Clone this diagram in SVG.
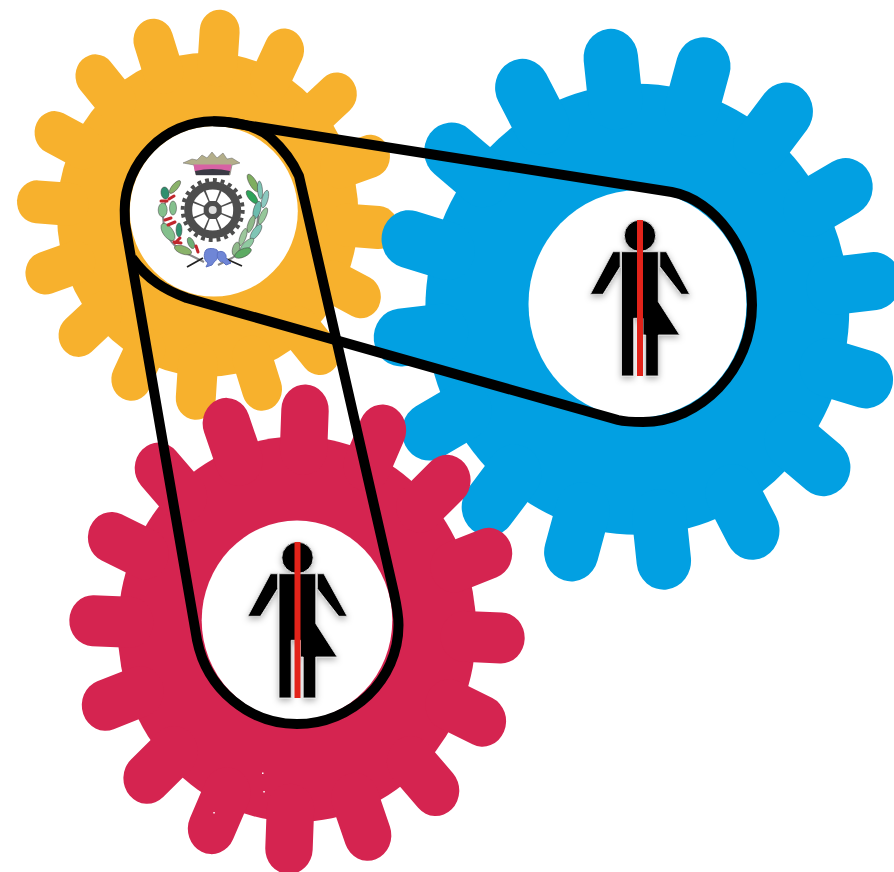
<svg xmlns="http://www.w3.org/2000/svg" width="894" height="872" viewBox="0 0 894 872">
<defs>
<style>
.orange{stroke:#f7b12d;fill:#f7b12d}
.blue{stroke:#02a0e2;fill:#02a0e2}
.red{stroke:#d52450;fill:#d52450}
.tooth{fill:none;stroke-linecap:round}
.belt{fill:none;stroke:#000;stroke-width:10;stroke-linejoin:round}
.leaf{stroke:#444;stroke-width:.5}
</style>
<filter id="sh" x="-30%" y="-30%" width="160%" height="160%"><feDropShadow dx="0" dy="2.500" stdDeviation="3" flood-color="#000" flood-opacity=".3"/></filter>
<g id="person">
<g filter="url(#sh)" stroke="#ddd" stroke-width=".9" fill="#000">
<circle cx="0" cy="15.700" r="15.700"/>
<path d="M-18.500 31.700H18.300V81.700L39.700 115H18.300V156H5.700V115H3V98.300H-6.300V156H-18.500Z"/>
<path d="M-27 31.700H-19.800V46.700L-37 74.300H-49.700Z"/>
<path d="M19.800 31.700H26.300L49.700 74.300H41.300L19.800 46.700Z"/>
</g>
<rect x="-3" y="0" width="6" height="156" fill="#e2231a"/>
</g>
<line id="to" class="tooth" x1="0" y1="-150" x2="0" y2="-184" stroke-width="43"/>
<line id="tb" class="tooth" x1="0" y1="-210" x2="0" y2="-253" stroke-width="58"/>
<line id="tr" class="tooth" x1="0" y1="-180" x2="0" y2="-219.500" stroke-width="51"/>
<path id="win" d="M-3 -9L3 -9L7 -19.500Q0 -21.500 -7 -19.500Z" fill="#fff"/>
</defs>
<g id="gear-orange" class="orange" transform="translate(207.700 214.700) scale(.93 1)">
<circle r="162" stroke="none"/>
<use href="#to" transform="rotate(4)"/><use href="#to" transform="rotate(26.500)"/><use href="#to" transform="rotate(49)"/><use href="#to" transform="rotate(71.500)"/><use href="#to" transform="rotate(94)"/><use href="#to" transform="rotate(116.500)"/><use href="#to" transform="rotate(139)"/><use href="#to" transform="rotate(161.500)"/><use href="#to" transform="rotate(184)"/><use href="#to" transform="rotate(206.500)"/><use href="#to" transform="rotate(229)"/><use href="#to" transform="rotate(251.500)"/><use href="#to" transform="rotate(274)"/><use href="#to" transform="rotate(296.500)"/><use href="#to" transform="rotate(319)"/><use href="#to" transform="rotate(341.500)"/>
</g>
<g id="gear-blue" class="blue" transform="translate(637.300 309.300) scale(.94 1)">
<circle r="225.500" stroke="none"/>
<use href="#tb" transform="rotate(-6.400)"/><use href="#tb" transform="rotate(16.100)"/><use href="#tb" transform="rotate(38.600)"/><use href="#tb" transform="rotate(61.100)"/><use href="#tb" transform="rotate(83.600)"/><use href="#tb" transform="rotate(106.100)"/><use href="#tb" transform="rotate(128.600)"/><use href="#tb" transform="rotate(151.100)"/><use href="#tb" transform="rotate(173.600)"/><use href="#tb" transform="rotate(196.100)"/><use href="#tb" transform="rotate(218.600)"/><use href="#tb" transform="rotate(241.100)"/><use href="#tb" transform="rotate(263.600)"/><use href="#tb" transform="rotate(286.100)"/><use href="#tb" transform="rotate(308.600)"/><use href="#tb" transform="rotate(331.100)"/>
</g>
<g id="gear-red" class="red" transform="translate(297 629.300) scale(.93 1)">
<circle r="192.700" stroke="none"/>
<use href="#tr" transform="rotate(2.250)"/><use href="#tr" transform="rotate(24.750)"/><use href="#tr" transform="rotate(47.250)"/><use href="#tr" transform="rotate(69.750)"/><use href="#tr" transform="rotate(92.250)"/><use href="#tr" transform="rotate(114.750)"/><use href="#tr" transform="rotate(137.250)"/><use href="#tr" transform="rotate(159.750)"/><use href="#tr" transform="rotate(182.250)"/><use href="#tr" transform="rotate(204.750)"/><use href="#tr" transform="rotate(227.250)"/><use href="#tr" transform="rotate(249.750)"/><use href="#tr" transform="rotate(272.250)"/><use href="#tr" transform="rotate(294.750)"/><use href="#tr" transform="rotate(317.250)"/><use href="#tr" transform="rotate(339.750)"/>
</g>
<g id="specks" fill="#fff">
<rect x="262" y="772.500" width="1.500" height="1.500"/><rect x="263.300" y="791" width="1.500" height="1.500"/><rect x="213.300" y="812" width="1.500" height="1.500"/>
</g>
<g id="hub-orange">
<ellipse cx="213.800" cy="211.300" rx="84" ry="85.300" fill="#fff"/>
<g id="logo">
<path d="M183 163L192 159L197 160L202 155L207 158L212 152L217 158L223 153L227 159L232 158L240 163L232 165L230 175H196L194 165Z" fill="#b3ae8a" stroke="#666" stroke-width=".5"/>
<path d="M193.500 164.500H231.500L230 172H195Z" fill="#d762a4"/>
<path d="M195 171Q212.500 167 230 171L229 175H196Z" fill="#3a3a44"/>
<circle cx="212.700" cy="210" r="30" fill="none" stroke="#4d4d4d" stroke-width="4" stroke-dasharray="3.900 3.954"/>
<circle cx="212.700" cy="210" r="28.500" fill="#4d4d4d"/>
<g transform="translate(212.700 210)">
<use href="#win"/><use href="#win" transform="rotate(45)"/><use href="#win" transform="rotate(90)"/><use href="#win" transform="rotate(135)"/><use href="#win" transform="rotate(180)"/><use href="#win" transform="rotate(225)"/><use href="#win" transform="rotate(270)"/><use href="#win" transform="rotate(315)"/>
<circle r="4" fill="#ddd"/>
</g>
<path d="M166 200C159 220 164 245 190 255L204 262" fill="none" stroke="#888" stroke-width="2"/>
<path d="M254 195C264 220 255 245 232 258L218 265" fill="none" stroke="#888" stroke-width="2"/>
<g class="leaf" fill="#3f9a5a">
<ellipse cx="165" cy="193" rx="4" ry="6" transform="rotate(-10 165 193)" fill="#2f8f6e"/>
<ellipse cx="175" cy="187" rx="3" ry="8" transform="rotate(40 175 187)" fill="#8ab26a"/>
<ellipse cx="162.700" cy="210" rx="4.500" ry="7" fill="#84c08d"/>
<ellipse cx="173" cy="208" rx="3.500" ry="7" fill="#84c08d"/>
<ellipse cx="168" cy="232" rx="5" ry="10" transform="rotate(-35 168 232)" fill="#84c08d"/>
<ellipse cx="179" cy="230" rx="3" ry="7" fill="#2f8f6e"/>
<ellipse cx="183" cy="250" rx="9" ry="4" transform="rotate(20 183 250)" fill="#8ab26a"/>
<ellipse cx="191" cy="243" rx="3" ry="6" transform="rotate(-25 191 243)" fill="#6fae74"/>
<ellipse cx="253" cy="183" rx="3.500" ry="10" transform="rotate(-30 253 183)" fill="#7fae60"/>
<ellipse cx="260" cy="190" rx="2.500" ry="9" transform="rotate(-5 260 190)" fill="#7fc5b5"/>
<ellipse cx="252" cy="197" rx="3.500" ry="8" transform="rotate(-40 252 197)" fill="#2ea35a"/>
<ellipse cx="265" cy="199" rx="3" ry="9" transform="rotate(15 265 199)" fill="#8cc9c0"/>
<ellipse cx="257" cy="210" rx="3.500" ry="9" transform="rotate(15 257 210)" fill="#6cbcae"/>
<ellipse cx="263" cy="216" rx="3" ry="9" transform="rotate(25 263 216)" fill="#96c79a"/>
<ellipse cx="251" cy="224" rx="3" ry="9" transform="rotate(20 251 224)" fill="#8fb98a"/>
<ellipse cx="256" cy="232" rx="3.500" ry="9" transform="rotate(35 256 232)" fill="#7fc5b5"/>
<ellipse cx="243" cy="237" rx="3" ry="9" transform="rotate(20 243 237)" fill="#9cc79c"/>
<ellipse cx="247" cy="245" rx="3.500" ry="9" transform="rotate(45 247 245)" fill="#8fc9a0"/>
<ellipse cx="236" cy="249" rx="3.500" ry="7" transform="rotate(15 236 249)" fill="#8fb98a"/>
<ellipse cx="243" cy="253" rx="9" ry="4" transform="rotate(-25 243 253)" fill="#5dab63"/>
</g>
<path d="M161 201L167 201M169 199L174 196M165 220L171 218M168 225L175 222M175 243L180 238M174 242L181 243M196 246L198 252" stroke="#c0272d" stroke-width="3" stroke-linecap="round" fill="none"/>
<path d="M187 267L203 258M242 266L222 257" stroke="#222" stroke-width="1.800" fill="none"/>
<path d="M206 250C203 254 204 261 208 263L206 267L212 265L214 262C218 260 219 253 217 250C214 248 208 248 206 250Z" fill="#6f86d6" stroke="#5a6fc0" stroke-width="1"/>
<path d="M218 252C222 250 227 253 226 258L231 263L226 265L223 262C218 262 216 256 218 252Z" fill="#6f86d6" stroke="#5a6fc0" stroke-width="1"/>
</g>
</g>
<g id="hub-blue">
<ellipse cx="637.500" cy="304" rx="109" ry="113.700" fill="#fff"/>
<use href="#person" x="640" y="220"/>
</g>
<g id="hub-red">
<ellipse cx="297" cy="620.300" rx="95.300" ry="99.700" fill="#fff"/>
<use href="#person" x="297.500" y="542"/>
</g>
<g id="connectors">
<path class="belt" d="M213 121.300L226 122L671.700 192C715 200 752 250 752 305C752 370 700 422 643 422C630 422 622 421 618 420L186.700 298C165 290 148 280 132 258"/>
<path class="belt" d="M197 640L125 223L124.700 210C124.700 162 165 121.300 213 121.300C235 121.300 255 125 270 137C282 148 292 160 299 176L394 593C397 607 398.500 615 398.500 625C398.500 680 352 724 297 724C250 724 207 690 197 640Z"/>
</g>
</svg>
